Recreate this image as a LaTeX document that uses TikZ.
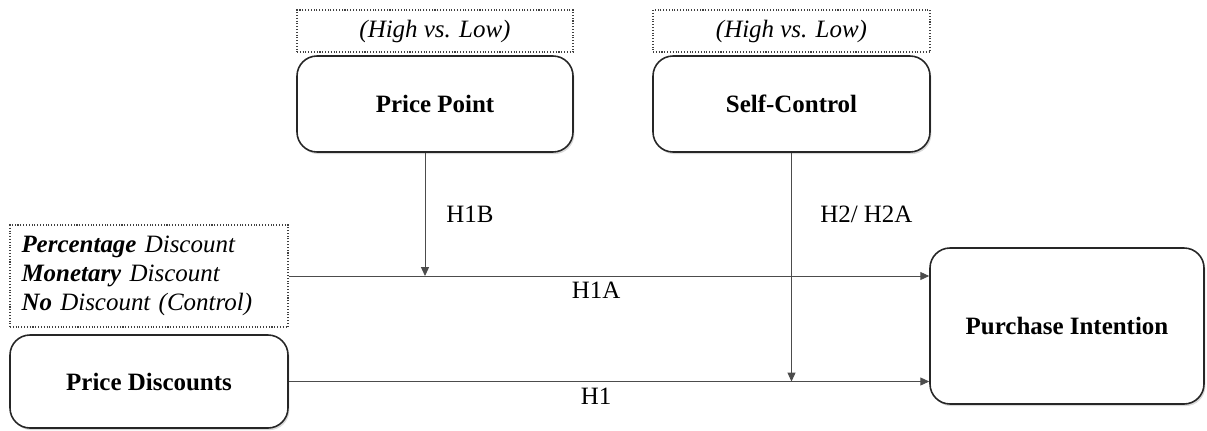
\documentclass[tikz,border=0pt]{standalone}
\usepackage{fontspec}
\setmainfont{Liberation Serif}
\usepackage{tikz}
\usetikzlibrary{arrows.meta, shadows}
\tikzset{
  varbox/.style={draw=black!85, line width=0.9pt, rounded corners=0.4cm, align=center,
    fill=white, drop shadow={opacity=0.3, shadow xshift=0.8pt, shadow yshift=-1.2pt},
    font=\fontsize{14.2}{16.5}\selectfont\bfseries},
  levelbox/.style={draw=black!75, densely dotted, line width=0.6pt, align=center,
    font=\fontsize{14.2}{16.5}\selectfont\itshape},
  hyp/.style={text=black, font=\fontsize{14.2}{16.5}\selectfont}
}

\begin{document}
\begin{tikzpicture}[>={Triangle[width=4.5pt,length=5pt]}]
  \useasboundingbox (0,0) rectangle (24.14,-8.6);
  % Nodes
  \node[levelbox, minimum width=5.52cm, minimum height=0.84cm] (pplevel) at (8.70,-0.62)
    {(High vs. Low)};
  \node[varbox, minimum width=5.52cm, minimum height=1.92cm] (pp) at (8.70,-2.08)
    {Price Point};

  \node[levelbox, minimum width=5.54cm, minimum height=0.84cm] (sclevel) at (15.83,-0.62)
    {(High vs. Low)};
  \node[varbox, minimum width=5.54cm, minimum height=1.92cm] (sc) at (15.83,-2.08)
    {Self-Control};

  \node[levelbox, text width=5.1cm, inner xsep=0.23cm, align=left, minimum height=2.04cm] (disclevels) at (2.98,-5.52)
    {\textbf{Percentage} Discount\\\textbf{Monetary} Discount\\\textbf{No} Discount (Control)};
  \node[varbox, minimum width=5.56cm, minimum height=1.86cm] (pd) at (2.98,-7.63)
    {Price Discounts};

  \node[varbox, minimum width=5.48cm, minimum height=3.12cm] (pi) at (21.34,-6.52)
    {Purchase Intention};

  % Main paths
  \draw[->, black!70, line width=0.5pt] (disclevels.east) -- node[hyp, below, pos=0.48] {H1A} (disclevels.east -| pi.west);
  \draw[->, black!70, line width=0.5pt] (pd.east) -- node[hyp, below, pos=0.48] {H1} (pd.east -| pi.west);

  % Moderators
  \draw[->, black!70, line width=0.5pt] ([xshift=-0.2cm]pp.south) -- node[hyp, right, xshift=0.3cm] {H1B} ([xshift=-0.2cm]pp.south |- disclevels.east);
  \draw[->, black!70, line width=0.5pt] (sc.south) -- node[hyp, right, pos=0.27, xshift=0.45cm] {H2/ H2A} (sc.south |- pd.east);
\end{tikzpicture}
\end{document}
